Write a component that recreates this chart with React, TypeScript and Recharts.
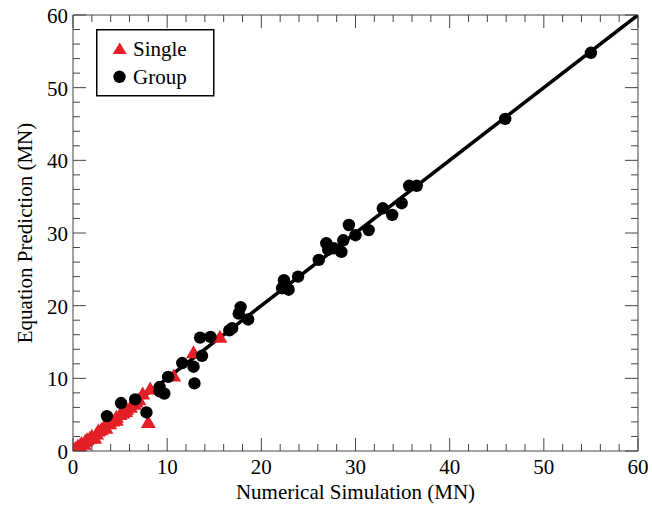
import { Legend, Scatter, ScatterChart, XAxis, YAxis } from "recharts";

// Single piles (red triangles)
const singleX = [
  0.1, 0.3, 0.5, 0.7, 0.9, 1.2, 1.3, 1.5, 1.8, 2.0, 2.3, 2.5, 2.7, 3.0, 3.3, 3.5, 3.9, 4.2,
  4.6, 4.6, 5.0, 5.3, 5.6, 5.7, 6.1, 6.5, 6.7, 7.0, 7.4, 8.0, 8.2, 10.7, 12.8, 15.6,
];
const singleY = [
  0.1, 0.2, 0.5, 0.6, 0.9, 0.8, 1.2, 1.4, 1.6, 1.9, 1.6, 2.2, 2.6, 2.8, 3.2, 3.0, 3.6, 4.0,
  4.1, 4.5, 4.9, 5.1, 5.3, 5.6, 5.9, 6.3, 6.6, 6.9, 7.7, 3.8, 8.4, 10.2, 13.4, 15.5,
];

// Pile groups (black circles)
const groupX = [
  3.6, 5.1, 6.6, 7.8, 9.2, 9.2, 9.7, 10.1, 11.6, 12.9, 12.8, 13.7, 13.5, 14.6, 16.6, 16.9,
  17.6, 17.8, 18.6, 22.2, 22.4, 22.9, 23.9, 26.1, 26.9, 27.1, 27.7, 28.5, 28.7, 29.3, 30.0,
  31.4, 32.9, 33.9, 34.9, 35.7, 36.5, 45.9, 55.0,
];
const groupY = [
  4.8, 6.6, 7.1, 5.3, 8.8, 8.2, 7.9, 10.2, 12.1, 9.3, 11.6, 13.1, 15.6, 15.7, 16.6, 16.9,
  18.9, 19.8, 18.1, 22.4, 23.5, 22.2, 24.0, 26.3, 28.6, 27.7, 27.9, 27.4, 29.0, 31.1, 29.7,
  30.4, 33.4, 32.5, 34.1, 36.5, 36.5, 45.7, 54.8,
];

// y = x reference line
const fitX = [0, 60];
const fitY = [0, 60];

const tickValues = [
  0, 2, 4, 6, 8, 10, 12, 14, 16, 18, 20, 22, 24, 26, 28, 30, 32, 34, 36, 38, 40, 42, 44, 46,
  48, 50, 52, 54, 56, 58, 60,
];
const majorTicks = [0, 10, 20, 30, 40, 50, 60];
const legendOrder = ["Single", "Group"];

const FONT = "Liberation Serif";
const AXIS = "#444";
const RED = "#e41f26";

const singleData = singleX.map((x, i) => ({ x, y: singleY[i] }));
const groupData = groupX.map((x, i) => ({ x, y: groupY[i] }));
const fitData = fitX.map((x, i) => ({ x, y: fitY[i] }));

const tickLen = (v: number) => (majorTicks.includes(v) ? 13 : 7);

function BottomTick({ x, y, payload }: any) {
  const v = payload.value;
  return (
    <g>
      <line x1={x} y1={y} x2={x} y2={y - tickLen(v)} stroke={AXIS} />
      {majorTicks.includes(v) && (
        <text x={x} y={y + 23} textAnchor="middle" fontFamily={FONT} fontSize={21} fill="#000">
          {v}
        </text>
      )}
    </g>
  );
}

function TopTick({ x, y, payload }: any) {
  return <line x1={x} y1={y} x2={x} y2={y + tickLen(payload.value)} stroke={AXIS} />;
}

function LeftTick({ x, y, payload }: any) {
  const v = payload.value;
  return (
    <g>
      <line x1={x} y1={y} x2={x + tickLen(v)} y2={y} stroke={AXIS} />
      {majorTicks.includes(v) && (
        <text x={x - 5} y={y + 8} textAnchor="end" fontFamily={FONT} fontSize={21} fill="#000">
          {v}
        </text>
      )}
    </g>
  );
}

function RightTick({ x, y, payload }: any) {
  return <line x1={x} y1={y} x2={x - tickLen(payload.value)} y2={y} stroke={AXIS} />;
}

function Triangle({ cx, cy }: any) {
  return <polygon points={`${cx},${cy - 8.5} ${cx - 7.5},${cy + 4.5} ${cx + 7.5},${cy + 4.5}`} fill={RED} />;
}

function Dot({ cx, cy }: any) {
  return <circle cx={cx} cy={cy} r={6.2} fill="#000" />;
}

function LegendBox({ payload }: any) {
  const items = (payload ?? [])
    .filter((p: any) => legendOrder.includes(p.value))
    .sort((a: any, b: any) => legendOrder.indexOf(a.value) - legendOrder.indexOf(b.value));
  return (
    <svg width={119} height={68} style={{ display: "block" }}>
      <rect x={0.75} y={0.75} width={117} height={66} fill="#fff" stroke="#000" strokeWidth={1.5} />
      {items.map((it: any, i: number) => {
        const cy = 19.5 + i * 28.3;
        return (
          <g key={it.value}>
            {it.value === "Single" ? (
              <polygon points={`23.7,${cy - 6} 16.7,${cy + 5.5} 30.7,${cy + 5.5}`} fill={RED} />
            ) : (
              <circle cx={23.5} cy={cy} r={6.2} fill="#000" />
            )}
            <text x={37} y={cy + 7.5} fontFamily={FONT} fontSize={21} fill="#000">
              {it.value}
            </text>
          </g>
        );
      })}
    </svg>
  );
}

export default function App() {
  return (
    <div style={{ position: "absolute", left: 0, top: 0, background: "#fff" }}>
      <ScatterChart width={652} height={510} margin={{ top: 0, right: 0, bottom: 0, left: 0 }}>
        <XAxis
          xAxisId="b"
          dataKey="x"
          type="number"
          domain={[0, 60]}
          ticks={tickValues}
          interval={0}
          allowDataOverflow
          height={59}
          tickSize={0}
          tickMargin={0}
          tickLine={false}
          axisLine={{ stroke: AXIS }}
          tick={(p: any) => <BottomTick {...p} />}
          label={{
            content: ({ viewBox }: any) => (
              <text
                x={viewBox.x + viewBox.width / 2}
                y={499}
                textAnchor="middle"
                fontFamily={FONT}
                fontSize={21}
                fill="#000"
              >
                Numerical Simulation (MN)
              </text>
            ),
          }}
        />
        <XAxis
          xAxisId="t"
          orientation="top"
          dataKey="x"
          type="number"
          domain={[0, 60]}
          ticks={tickValues}
          interval={0}
          allowDataOverflow
          height={15}
          tickSize={0}
          tickMargin={0}
          tickLine={false}
          axisLine={{ stroke: AXIS }}
          tick={(p: any) => <TopTick {...p} />}
        />
        <YAxis
          yAxisId="l"
          dataKey="y"
          type="number"
          domain={[0, 60]}
          ticks={tickValues}
          interval={0}
          allowDataOverflow
          width={73}
          tickSize={0}
          tickMargin={0}
          tickLine={false}
          axisLine={{ stroke: AXIS }}
          tick={(p: any) => <LeftTick {...p} />}
          label={{
            content: ({ viewBox }: any) => {
              const cy = viewBox.y + viewBox.height / 2;
              return (
                <text
                  x={32}
                  y={cy}
                  transform={`rotate(-90, 32, ${cy})`}
                  textAnchor="middle"
                  fontFamily={FONT}
                  fontSize={21}
                  fill="#000"
                >
                  Equation Prediction (MN)
                </text>
              );
            },
          }}
        />
        <YAxis
          yAxisId="r"
          orientation="right"
          dataKey="y"
          type="number"
          domain={[0, 60]}
          ticks={tickValues}
          interval={0}
          allowDataOverflow
          width={14}
          tickSize={0}
          tickMargin={0}
          tickLine={false}
          axisLine={{ stroke: AXIS }}
          tick={(p: any) => <RightTick {...p} />}
        />
        <Legend
          layout="horizontal"
          align="center"
          verticalAlign="middle"
          wrapperStyle={{ left: 96, top: 29, width: 119, height: 68 }}
          content={(p: any) => <LegendBox {...p} />}
        />
        <Scatter
          xAxisId="b"
          yAxisId="l"
          data={fitData}
          line={{ stroke: "#000", strokeWidth: 3.6 }}
          shape={() => <g />}
          legendType="none"
          isAnimationActive={false}
        />
        <Scatter
          xAxisId="b"
          yAxisId="l"
          name="Single"
          data={singleData}
          fill={RED}
          shape={(p: any) => <Triangle {...p} />}
          legendType="triangle"
          isAnimationActive={false}
        />
        <Scatter
          xAxisId="b"
          yAxisId="l"
          name="Group"
          data={groupData}
          fill="#000"
          shape={(p: any) => <Dot {...p} />}
          legendType="circle"
          isAnimationActive={false}
        />
      </ScatterChart>
    </div>
  );
}
